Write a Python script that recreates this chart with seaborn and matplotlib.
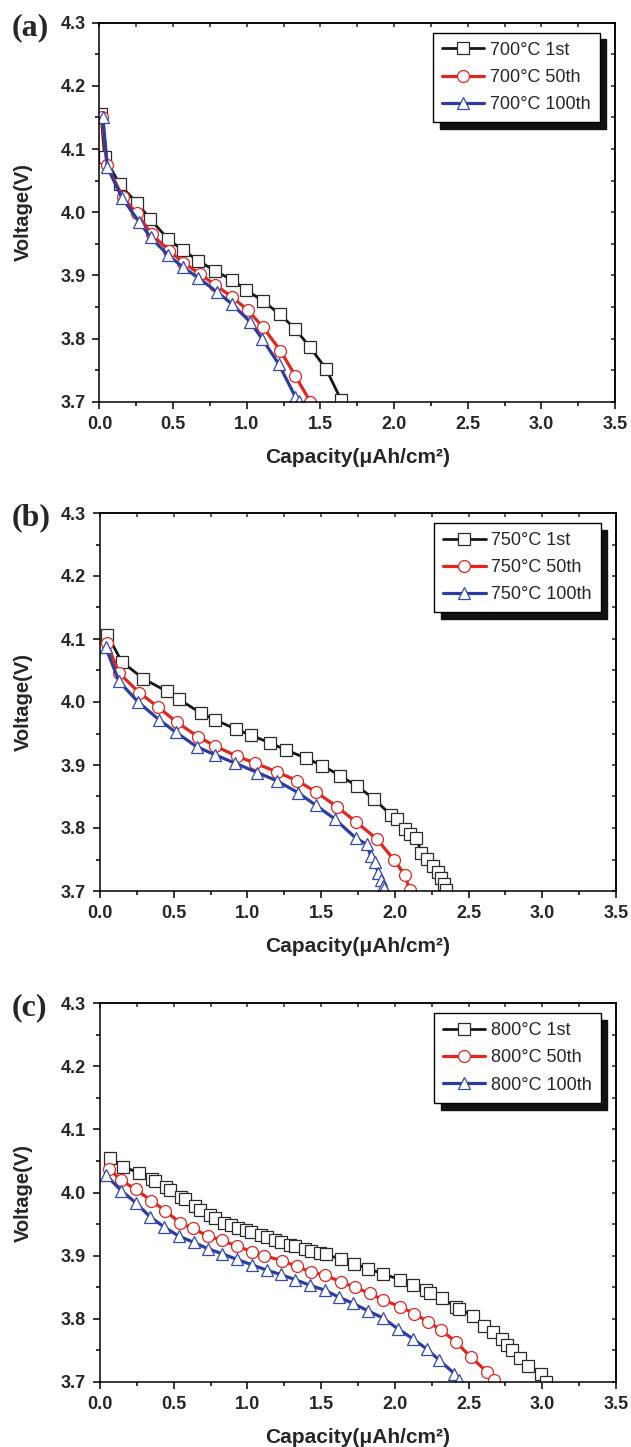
import matplotlib
matplotlib.use("Agg")
import matplotlib.pyplot as plt
from matplotlib.ticker import MultipleLocator, FormatStrFormatter
import seaborn as sns

sns.set_theme(style="ticks")
plt.rcParams['font.family'] = ['Liberation Sans', 'DejaVu Sans']

# ---- data (capacity in uAh/cm2, voltage in V) ----
# (a) 700 C
a_1st_x = [0.01, 0.035, 0.136, 0.253, 0.344, 0.468, 0.566, 0.672, 0.785, 0.898, 0.997,
           1.11, 1.223, 1.329, 1.427, 1.538, 1.642]
a_1st_y = [4.155, 4.088, 4.044, 4.015, 3.989, 3.957, 3.940, 3.923, 3.907, 3.893, 3.877,
           3.859, 3.839, 3.815, 3.787, 3.752, 3.702]
a_50_x = [0.016, 0.05, 0.158, 0.253, 0.355, 0.473, 0.570, 0.683, 0.785, 0.898, 1.006,
          1.11, 1.228, 1.329, 1.431]
a_50_y = [4.15, 4.075, 4.024, 3.998, 3.965, 3.939, 3.920, 3.902, 3.885, 3.866, 3.845,
          3.818, 3.781, 3.741, 3.70]
a_100_x = [0.023, 0.054, 0.152, 0.271, 0.348, 0.462, 0.566, 0.672, 0.796, 0.898, 1.024,
           1.103, 1.216, 1.329, 1.353]
a_100_y = [4.15, 4.071, 4.023, 3.984, 3.960, 3.933, 3.913, 3.896, 3.874, 3.855, 3.826,
           3.80, 3.76, 3.708, 3.701]

# (b) 750 C
b_1st_x = [0.05, 0.147, 0.294, 0.452, 0.536, 0.688, 0.778, 0.921, 1.027, 1.154, 1.26,
           1.396, 1.509, 1.629, 1.74, 1.86, 1.975, 2.012, 2.068, 2.106, 2.146, 2.18,
           2.22, 2.258, 2.29, 2.315, 2.33, 2.345]
b_1st_y = [4.107, 4.064, 4.037, 4.017, 4.004, 3.982, 3.972, 3.957, 3.947, 3.935, 3.924,
           3.911, 3.899, 3.883, 3.867, 3.846, 3.82, 3.814, 3.798, 3.79, 3.784, 3.76,
           3.751, 3.74, 3.73, 3.72, 3.711, 3.702]
b_50_x = [0.045, 0.129, 0.265, 0.394, 0.520, 0.665, 0.781, 0.928, 1.052, 1.199, 1.339,
          1.466, 1.606, 1.735, 1.876, 1.997, 2.068, 2.1]
b_50_y = [4.094, 4.046, 4.015, 3.992, 3.968, 3.945, 3.930, 3.914, 3.903, 3.889, 3.875,
          3.857, 3.834, 3.810, 3.783, 3.749, 3.725, 3.702]
b_100_x = [0.038, 0.129, 0.258, 0.400, 0.514, 0.656, 0.781, 0.916, 1.068, 1.199, 1.344,
           1.464, 1.595, 1.735, 1.81, 1.837, 1.866, 1.887, 1.905, 1.921, 1.928]
b_100_y = [4.087, 4.033, 4.0, 3.972, 3.952, 3.929, 3.916, 3.903, 3.888, 3.875, 3.856,
           3.836, 3.814, 3.784, 3.774, 3.755, 3.746, 3.728, 3.718, 3.708, 3.704]

# (c) 800 C
c_1st_x = [0.068, 0.158, 0.264, 0.354, 0.372, 0.450, 0.477, 0.550, 0.579, 0.642, 0.676,
           0.743, 0.777, 0.838, 0.89, 0.935, 0.989, 1.027, 1.09, 1.131, 1.187, 1.225,
           1.288, 1.324, 1.39, 1.428, 1.495, 1.532, 1.634, 1.722, 1.82, 1.921, 2.032,
           2.122, 2.212, 2.239, 2.32, 2.414, 2.437, 2.532, 2.606, 2.667, 2.725, 2.764,
           2.797, 2.847, 2.90, 2.99, 3.027]
c_1st_y = [4.055, 4.041, 4.031, 4.021, 4.018, 4.008, 4.004, 3.993, 3.989, 3.978, 3.973,
           3.965, 3.960, 3.952, 3.948, 3.944, 3.940, 3.937, 3.932, 3.930, 3.925, 3.922,
           3.917, 3.915, 3.911, 3.908, 3.904, 3.902, 3.894, 3.887, 3.879, 3.871, 3.862,
           3.853, 3.845, 3.841, 3.832, 3.819, 3.816, 3.804, 3.789, 3.779, 3.768, 3.758,
           3.750, 3.737, 3.725, 3.712, 3.70]
c_50_x = [0.061, 0.14, 0.241, 0.349, 0.444, 0.541, 0.631, 0.730, 0.827, 0.928, 1.034,
          1.113, 1.232, 1.333, 1.43, 1.525, 1.637, 1.727, 1.829, 1.919, 2.032, 2.133,
          2.223, 2.313, 2.414, 2.516, 2.628, 2.673]
c_50_y = [4.038, 4.020, 4.005, 3.987, 3.971, 3.952, 3.943, 3.931, 3.924, 3.915, 3.906,
          3.900, 3.892, 3.883, 3.874, 3.869, 3.858, 3.850, 3.840, 3.830, 3.819, 3.808,
          3.795, 3.782, 3.763, 3.739, 3.715, 3.702]
c_100_x = [0.038, 0.144, 0.241, 0.342, 0.437, 0.534, 0.635, 0.730, 0.827, 0.928, 1.034,
           1.131, 1.225, 1.322, 1.423, 1.525, 1.621, 1.718, 1.821, 1.919, 2.02, 2.122,
           2.216, 2.302, 2.403, 2.432]
c_100_y = [4.028, 4.003, 3.984, 3.961, 3.945, 3.931, 3.921, 3.911, 3.903, 3.894, 3.885,
           3.877, 3.870, 3.862, 3.853, 3.845, 3.834, 3.824, 3.812, 3.801, 3.784, 3.768,
           3.752, 3.734, 3.713, 3.702]

panels = [
    ("(a)", "700°C", [(a_1st_x, a_1st_y), (a_50_x, a_50_y), (a_100_x, a_100_y)]),
    ("(b)", "750°C", [(b_1st_x, b_1st_y), (b_50_x, b_50_y), (b_100_x, b_100_y)]),
    ("(c)", "800°C", [(c_1st_x, c_1st_y), (c_50_x, c_50_y), (c_100_x, c_100_y)]),
]
cycles = ["1st", "50th", "100th"]

# style of each cycle: line colour, marker, marker edge colour, line width
styles = [
    ("#161616", "s", "#2a2a2a", 2.0),
    ("#e3261d", "o", "#e3261d", 2.3),
    ("#2b3d9f", "^", "#3248b4", 2.3),
]

fig = plt.figure(figsize=(6.31, 14.47), dpi=100)
W, H = 631, 1447
# axes boxes in pixels: left, top, right, bottom
boxes = [(99.5, 22.7, 615, 401.7), (100, 513, 616, 891), (100, 1003.3, 616, 1381.7)]
label_y = [28, 518, 1008]

for (tag, temp, series), (l, t, r, b), ly in zip(panels, boxes, label_y):
    ax = fig.add_axes([l / W, 1 - b / H, (r - l) / W, (b - t) / H])
    for (xs, ys), cyc, (col, mk, mec, lw) in zip(series, cycles, styles):
        sns.lineplot(x=xs, y=ys, ax=ax, sort=False, errorbar=None,
                     color=col, linewidth=lw, marker=mk, markersize=8.6,
                     markerfacecolor="white", markeredgecolor=mec,
                     markeredgewidth=0.9, label=f"{temp} {cyc}")

    ax.set_xlim(0, 3.5)
    ax.set_ylim(3.7, 4.3)
    ax.xaxis.set_major_locator(MultipleLocator(0.5))
    ax.xaxis.set_minor_locator(MultipleLocator(0.25))
    ax.yaxis.set_major_locator(MultipleLocator(0.1))
    ax.yaxis.set_minor_locator(MultipleLocator(0.05))
    ax.xaxis.set_major_formatter(FormatStrFormatter("%.1f"))
    ax.yaxis.set_major_formatter(FormatStrFormatter("%.1f"))
    ax.tick_params(which="major", direction="out", length=5, width=1.1,
                   color="black", pad=5)
    ax.tick_params(which="minor", direction="out", length=2.8, width=1.1, color="black")
    for lab in ax.get_xticklabels() + ax.get_yticklabels():
        lab.set_fontweight("bold")
        lab.set_fontsize(13)
    for sp in ax.spines.values():
        sp.set_visible(True)
        sp.set_linewidth(1.1)
        sp.set_color("black")

    # inward ticks on top and right
    top = ax.secondary_xaxis("top")
    top.xaxis.set_major_locator(MultipleLocator(0.5))
    top.xaxis.set_minor_locator(MultipleLocator(0.25))
    top.tick_params(which="both", direction="in", length=3, width=1.1, labeltop=False)
    right = ax.secondary_yaxis("right")
    right.yaxis.set_major_locator(MultipleLocator(0.1))
    right.yaxis.set_minor_locator(MultipleLocator(0.05))
    right.tick_params(which="both", direction="in", length=3, width=1.1, labelright=False)

    ax.set_xlabel("Capacity(μAh/cm²)", fontsize=15, fontweight="bold", labelpad=11)
    ax.set_ylabel("Voltage(V)", fontsize=14.5, fontweight="bold", labelpad=20)

    ax.legend(loc="upper right", bbox_to_anchor=(0.97, 0.974), borderaxespad=0,
              frameon=True, fancybox=False, edgecolor="black", framealpha=1,
              shadow={"ox": 5, "oy": -5, "facecolor": "#111111",
                      "edgecolor": "#111111", "alpha": 1},
              fontsize=13, handlelength=2.35, handletextpad=0.3,
              labelspacing=0.57, borderpad=0.5)

    fig.text(12 / W, 1 - ly / H, tag, family=["Liberation Serif", "DejaVu Serif"],
             fontweight="bold", fontsize=23, va="center", ha="left")

fig.savefig("out.png", dpi=100)
